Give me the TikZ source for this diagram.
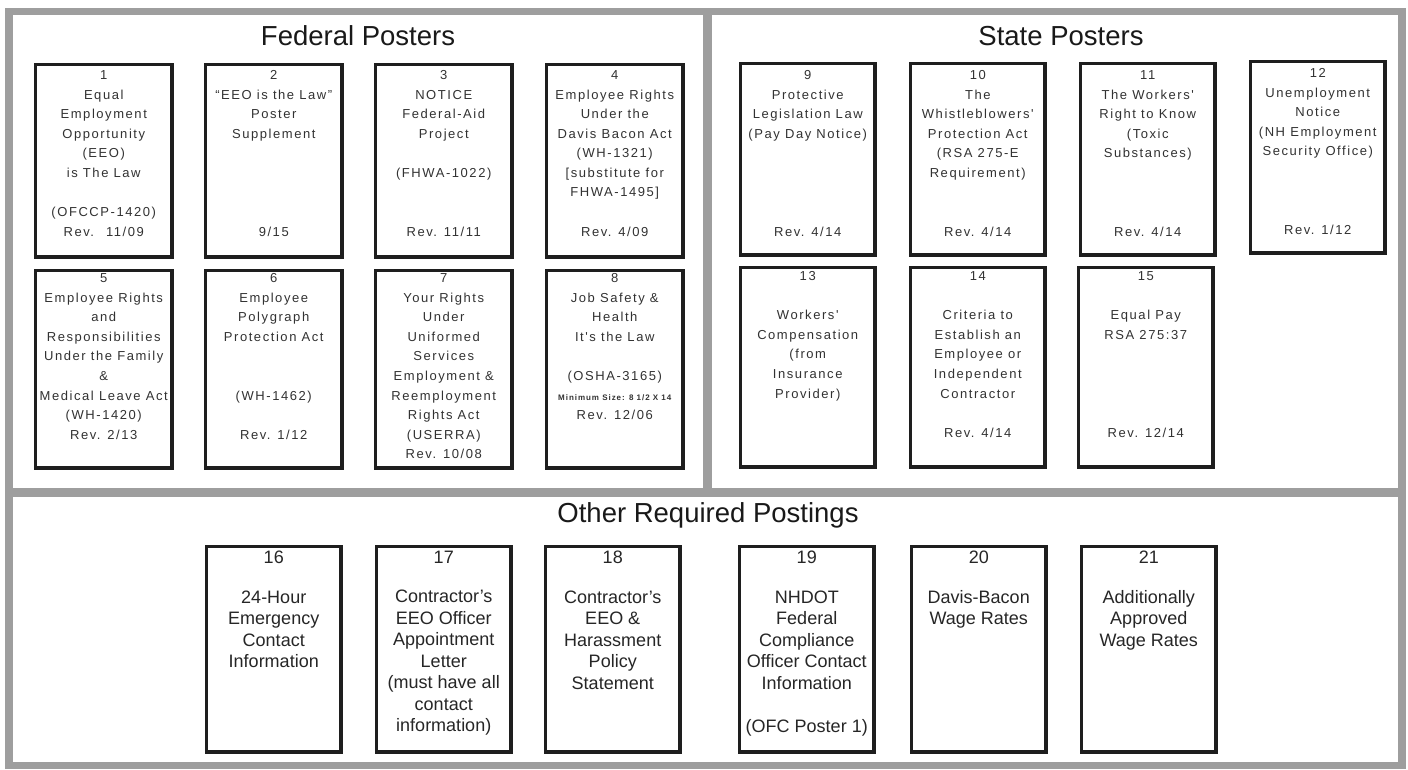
\documentclass[tikz,border=0pt]{standalone}
\usepackage{fontspec}
\setmainfont{Liberation Sans}
\newfontfamily\boxfont[LetterSpace=12]{Liberation Sans}
\usetikzlibrary{calc}
\definecolor{band}{RGB}{158,158,158}
\definecolor{boxline}{RGB}{30,30,30}
\definecolor{boxtext}{RGB}{50,50,50}
\tikzset{
  poster/.style={draw=boxline, line width=3.5pt, fill=white, anchor=north west, inner sep=0pt, minimum width=136.5pt},
  postertext/.style={anchor=north, align=center, inner sep=0pt, text=boxtext, font=\boxfont\fontsize{13}{19.6}\selectfont},
  othertext/.style={anchor=north, align=center, inner sep=0pt, text=black!85, font=\fontsize{18}{21.5}\selectfont},
  heading/.style={inner sep=0pt, text=black!90, font=\fontsize{27.5}{33}\selectfont}
}

\begin{document}
\begin{tikzpicture}[x=1pt,y=-1pt]
        \useasboundingbox (0,0) rectangle (1408,769);
        % gray frame and the three panels
        \fill[band] (5,8) rectangle (1406,769);
        \fill[white] (13,15) rectangle (703,488);
        \fill[white] (712,15) rectangle (1398,488);
        \fill[white] (13,497) rectangle (1398,762);
        \node[heading] (fedtitle) at (358,36) {Federal Posters};
        \node[heading] (sttitle) at (1061,36) {State Posters};
        \node[heading] (othtitle) at (708,515) {Other Required Postings};

        % federal posters, first row
        \node[poster, minimum height=192.5pt] (fed1) at (33.75,62.75) {};
        \node[poster, minimum height=192.5pt] (fed2) at (203.75,62.75) {};
        \node[poster, minimum height=192.5pt] (fed3) at (373.75,62.75) {};
        \node[poster, minimum height=192.5pt] (fed4) at (544.75,62.75) {};
        \node[postertext] (fed1t) at ([yshift=-7.5pt]fed1.north) {1\\Equal\\Employment\\Opportunity\\(EEO)\\is The Law\\~\\(OFCCP-1420)\\Rev.~ 11/09};
        \node[postertext] (fed2t) at ([yshift=-7.5pt]fed2.north) {2\\“EEO is the Law”\\Poster\\Supplement\\~\\~\\~\\~\\9/15};
        \node[postertext] (fed3t) at ([yshift=-7.5pt]fed3.north) {3\\NOTICE\\Federal-Aid\\Project\\~\\(FHWA-1022)\\~\\~\\Rev. 11/11};
        \node[postertext] (fed4t) at ([yshift=-7.5pt]fed4.north) {4\\Employee Rights\\Under the\\Davis Bacon Act\\(WH-1321)\\{[}substitute for\\FHWA-1495]\\~\\Rev. 4/09};

        % federal posters, second row
        \node[poster, minimum height=197.5pt] (fed5) at (33.75,268.75) {};
        \node[poster, minimum height=197.5pt] (fed6) at (203.75,268.75) {};
        \node[poster, minimum height=197.5pt] (fed7) at (373.75,268.75) {};
        \node[poster, minimum height=197.5pt] (fed8) at (544.75,268.75) {};
        \node[postertext] (fed5t) at ([yshift=-4.5pt]fed5.north) {5\\Employee Rights\\and\\Responsibilities\\Under the Family\\\&\\Medical Leave Act\\(WH-1420)\\Rev. 2/13};
        \node[postertext] (fed6t) at ([yshift=-4.5pt]fed6.north) {6\\Employee\\Polygraph\\Protection Act\\~\\~\\(WH-1462)\\~\\Rev. 1/12};
        \node[postertext] (fed7t) at ([yshift=-4.5pt]fed7.north) {7\\Your Rights\\Under\\Uniformed\\Services\\Employment \&\\Reemployment\\Rights Act\\(USERRA)\\Rev. 10/08};
        \node[postertext] (fed8t) at ([yshift=-4.5pt]fed8.north) {8\\Job Safety \&\\Health\\It's the Law\\~\\(OSHA-3165)\\{\fontsize{8}{19.6}\selectfont\bfseries Minimum Size: 8 1/2 X 14}\\Rev. 12/06};

        % state posters, first row
        \node[poster, minimum width=134.5pt, minimum height=191.5pt] (st9) at (738.75,61.75) {};
        \node[poster, minimum width=134.5pt, minimum height=191.5pt] (st10) at (908.75,61.75) {};
        \node[poster, minimum width=134.5pt, minimum height=191.5pt] (st11) at (1078.75,61.75) {};
        \node[poster, minimum width=134.5pt, minimum height=191.5pt] (st12) at (1248.75,59.75) {};
        \node[postertext] (st9t) at ([yshift=-8.5pt]st9.north) {9\\Protective\\Legislation Law\\(Pay Day Notice)\\~\\~\\~\\~\\Rev. 4/14};
        \node[postertext] (st10t) at ([yshift=-8.5pt]st10.north) {10\\The\\Whistleblowers'\\Protection Act\\(RSA 275-E\\Requirement)\\~\\~\\Rev. 4/14};
        \node[postertext] (st11t) at ([yshift=-8.5pt]st11.north) {11\\The Workers'\\Right to Know\\(Toxic\\Substances)\\~\\~\\~\\Rev. 4/14};
        \node[postertext] (st12t) at ([yshift=-8.5pt]st12.north) {12\\Unemployment\\Notice\\(NH Employment\\Security Office)\\~\\~\\~\\Rev. 1/12};

        % state posters, second row
        \node[poster, minimum width=134.5pt, minimum height=199.5pt] (st13) at (738.75,265.75) {};
        \node[poster, minimum width=134.5pt, minimum height=199.5pt] (st14) at (908.75,265.75) {};
        \node[poster, minimum width=134.5pt, minimum height=199.5pt] (st15) at (1076.75,265.75) {};
        \node[postertext] (st13t) at ([yshift=-5.5pt]st13.north) {13\\~\\Workers'\\Compensation\\(from\\Insurance\\Provider)};
        \node[postertext] (st14t) at ([yshift=-5.5pt]st14.north) {14\\~\\Criteria to\\Establish an\\Employee or\\Independent\\Contractor\\~\\Rev. 4/14};
        \node[postertext] (st15t) at ([yshift=-5.5pt]st15.north) {15\\~\\Equal Pay\\RSA 275:37\\~\\~\\~\\~\\Rev. 12/14};

        % other required postings
        \node[poster, minimum width=134.5pt, minimum height=205.5pt] (oth16) at (204.75,544.75) {};
        \node[poster, minimum width=134.5pt, minimum height=205.5pt] (oth17) at (374.75,544.75) {};
        \node[poster, minimum width=134.5pt, minimum height=205.5pt] (oth18) at (543.75,544.75) {};
        \node[poster, minimum width=134.5pt, minimum height=205.5pt] (oth19) at (737.75,544.75) {};
        \node[poster, minimum width=134.5pt, minimum height=205.5pt] (oth20) at (909.75,544.75) {};
        \node[poster, minimum width=134.5pt, minimum height=205.5pt] (oth21) at (1079.75,544.75) {};
        \node[othertext] (oth16t) at ([yshift=-6pt]oth16.north) {16\\[18pt]24-Hour\\Emergency\\Contact\\Information};
        \node[othertext] (oth17t) at ([yshift=-6pt]oth17.north) {17\\[18pt]Contractor's\\EEO Officer\\Appointment\\Letter\\(must have all\\contact\\information)};
        \node[othertext] (oth18t) at ([yshift=-6pt]oth18.north) {18\\[18pt]Contractor's\\EEO \&\\Harassment\\Policy\\Statement};
        \node[othertext] (oth19t) at ([yshift=-6pt]oth19.north) {19\\[18pt]NHDOT\\Federal\\Compliance\\Officer Contact\\Information\\~\\(OFC Poster 1)};
        \node[othertext] (oth20t) at ([yshift=-6pt]oth20.north) {20\\[18pt]Davis-Bacon\\Wage Rates};
        \node[othertext] (oth21t) at ([yshift=-6pt]oth21.north) {21\\[18pt]Additionally\\Approved\\Wage Rates};
\end{tikzpicture}
\end{document}
